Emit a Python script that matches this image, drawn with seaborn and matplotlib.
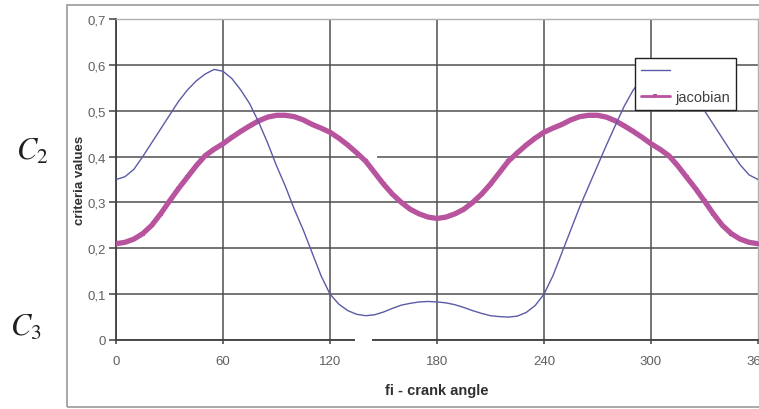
import numpy as np
import pandas as pd
import matplotlib
matplotlib.use("Agg")
import matplotlib.pyplot as plt
import seaborn as sns
from matplotlib.patches import Rectangle
from matplotlib.lines import Line2D

# ---- data ----
angle = [0, 5, 10, 15, 20, 25, 30, 35, 40, 45, 50, 55, 60, 65, 70, 75, 80, 85, 90,
         95, 100, 105, 110, 115, 120, 125, 130, 135, 140, 145, 150, 155, 160, 165, 170, 175, 180,
         185, 190, 195, 200, 205, 210, 215, 220, 225, 230, 235, 240, 245, 250, 255, 260, 265, 270,
         275, 280, 285, 290, 295, 300, 305, 310, 315, 320, 325, 330, 335, 340, 345, 350, 355, 360]

criterion = [0.350, 0.356, 0.372, 0.400, 0.430, 0.460, 0.490, 0.520, 0.545, 0.565, 0.580, 0.590, 0.586,
             0.570, 0.545, 0.515, 0.475, 0.430, 0.380, 0.335, 0.285, 0.240, 0.190, 0.140, 0.100,
             0.078, 0.064, 0.056, 0.053, 0.055, 0.061, 0.069, 0.076, 0.080, 0.083, 0.084, 0.083,
             0.081, 0.077, 0.071, 0.064, 0.058, 0.053, 0.051, 0.050, 0.052, 0.060, 0.075, 0.100,
             0.140, 0.190, 0.240, 0.290, 0.335, 0.380, 0.425, 0.468, 0.510, 0.545, 0.570, 0.585,
             0.590, 0.582, 0.566, 0.546, 0.524, 0.500, 0.470, 0.440, 0.410, 0.382, 0.360, 0.350]

jacobian = [0.210, 0.213, 0.220, 0.232, 0.250, 0.275, 0.303, 0.330, 0.355, 0.380, 0.402, 0.416, 0.428,
            0.442, 0.455, 0.467, 0.478, 0.486, 0.490, 0.490, 0.487, 0.480, 0.470, 0.462, 0.453,
            0.440, 0.425, 0.408, 0.390, 0.365, 0.340, 0.318, 0.300, 0.285, 0.275, 0.268, 0.265,
            0.268, 0.275, 0.285, 0.300, 0.318, 0.340, 0.365, 0.390, 0.408, 0.425, 0.440, 0.453,
            0.462, 0.470, 0.480, 0.487, 0.490, 0.490, 0.486, 0.478, 0.467, 0.455, 0.442, 0.428,
            0.416, 0.402, 0.380, 0.355, 0.330, 0.303, 0.275, 0.250, 0.232, 0.220, 0.213, 0.210]

x_ticks = [0, 60, 120, 180, 240, 300, 360]
y_ticks = [0.0, 0.1, 0.2, 0.3, 0.4, 0.5, 0.6, 0.7]
y_tick_labels = ["0", "0,1", "0,2", "0,3", "0,4", "0,5", "0,6", "0,7"]
series_labels = ["", "jacobian"]

df = pd.DataFrame({"angle": angle, "criterion": criterion, "jacobian": jacobian})

BLUE = "#5b5ba6"
PINK = "#b8539e"
GRID = "#505050"

sns.set_style("white")
plt.rcParams["font.family"] = ["Liberation Sans", "DejaVu Sans"]
plt.rcParams["mathtext.fontset"] = "stix"

fig = plt.figure(figsize=(7.59, 4.10), dpi=100)
ax = fig.add_axes([116 / 759, 69 / 410, 642 / 759, 321 / 410])

sns.lineplot(data=df, x="angle", y="jacobian", ax=ax, color=PINK, lw=3.8,
             marker="s", markersize=3.2, markeredgewidth=0, zorder=3)
sns.lineplot(data=df, x="angle", y="criterion", ax=ax, color=BLUE, lw=1.0, zorder=4)

ax.set_xlim(0, 360)
ax.set_ylim(0, 0.7)
ax.set_xticks(x_ticks)
ax.set_yticks(y_ticks)
ax.set_yticklabels(y_tick_labels)
ax.grid(True, color=GRID, lw=1.1)
ax.set_axisbelow(True)
ax.yaxis.get_gridlines()[-1].set_visible(False)
ax.xaxis.get_gridlines()[-1].set_visible(False)

for side in ["left", "bottom"]:
    ax.spines[side].set_color("#404040")
    ax.spines[side].set_linewidth(1.3)
for side in ["top", "right"]:
    ax.spines[side].set_color("#b0b0b0")
    ax.spines[side].set_linewidth(1.0)

ax.tick_params(axis="y", length=5, width=1.1, color="#404040", pad=2,
               labelsize=9.5, labelcolor="#606060", left=True)
ax.tick_params(axis="x", length=3, width=1.1, color="#404040", pad=8,
               labelsize=9.5, labelcolor="#606060", bottom=True)

ax.set_xlabel("fi - crank angle", fontsize=10.5, fontweight="bold", color="#303030", labelpad=11)
ax.set_ylabel("criteria values", fontsize=9.5, fontweight="bold", color="#303030", labelpad=1)

# white gaps seen in the reference
ax.add_patch(Rectangle((138, 0.392), 8.5, 0.016, facecolor="white", edgecolor="none", zorder=2.2))
ax.add_patch(Rectangle((134, -0.006), 9.5, 0.012, facecolor="white", edgecolor="none",
                       zorder=5, clip_on=False))

handles = [Line2D([], [], color=BLUE, lw=1.0),
           Line2D([], [], color=PINK, lw=2.0, marker="s", markersize=3.5, markeredgewidth=0)]
leg = ax.legend(handles=handles, labels=series_labels, loc="upper left",
                bbox_to_anchor=((635 - 116) / 642, (341 - 59) / 321), borderaxespad=0,
                fontsize=10.5, handlelength=2.0, handletextpad=0.35, labelspacing=0.85,
                borderpad=0.4, frameon=True, fancybox=False, framealpha=1)
leg.get_frame().set_edgecolor("#202020")
leg.get_frame().set_linewidth(1.0)
for t in leg.get_texts():
    t.set_color("#404040")

# outer chart border
fig.patches.append(Rectangle((67 / 759, 2 / 410), 0.95, 402 / 410, transform=fig.transFigure,
                             fill=False, edgecolor="#9a9a9a", lw=1.2))

fig.text(32 / 759, 1 - 152 / 410, r"$C_2$", fontsize=22, ha="center", va="center", color="#202020")
fig.text(26 / 759, 1 - 328 / 410, r"$C_3$", fontsize=22, ha="center", va="center", color="#202020")

fig.savefig("out.png", dpi=100)
